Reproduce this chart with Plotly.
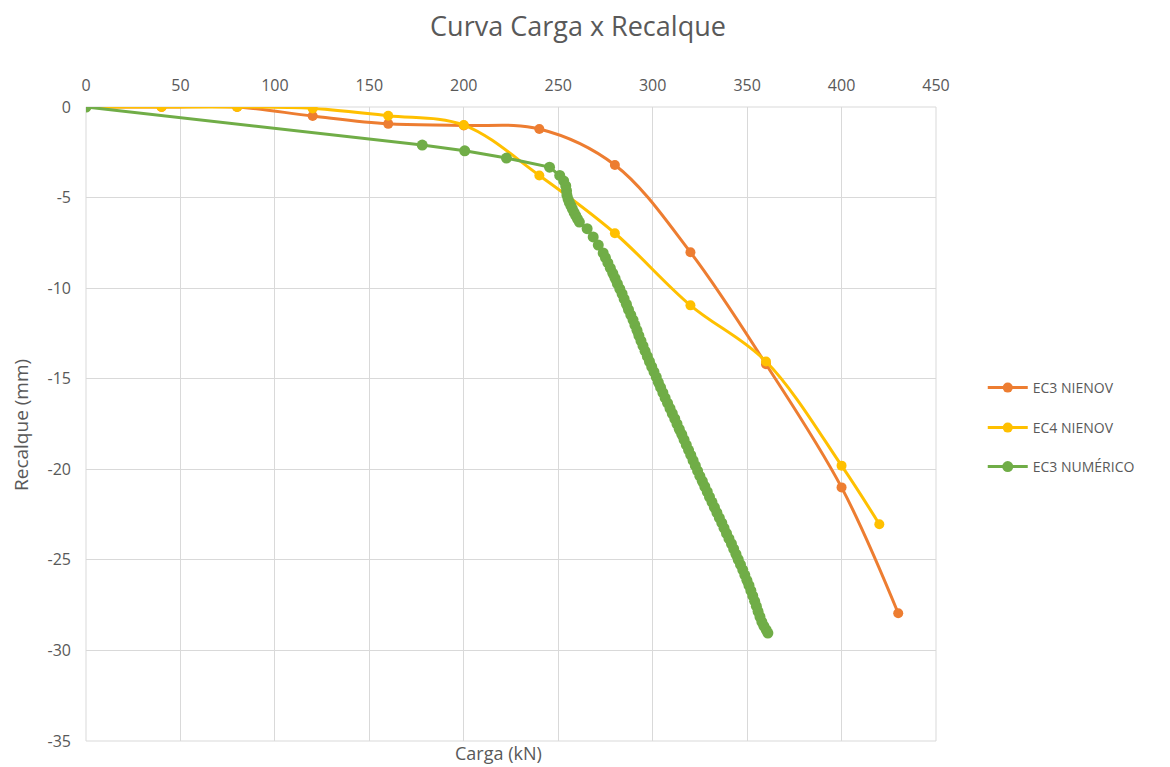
import plotly.graph_objects as go

# Load (kN) vs settlement (mm)
carga_ec3 = [0, 40, 80, 120, 160, 200, 240, 280, 320, 360, 400, 430]
recalque_ec3 = [0, 0, 0, -0.50, -0.93, -1.02, -1.21, -3.20, -8.02, -14.20, -21.00, -27.95]

carga_ec4 = [0, 40, 80, 120, 160, 200, 240, 280, 320, 360, 400, 420]
recalque_ec4 = [0, 0, 0, -0.08, -0.48, -1.00, -3.78, -6.97, -10.95, -14.05, -19.80, -23.03]

carga_num = [
    0, 178.0, 200.5, 222.6, 245.4, 250.8, 252.9, 254.0, 254.4, 254.6,
    255.2, 255.9, 256.7, 257.5, 258.4, 259.3, 260.2, 261.2, 265.3, 268.5,
    271.2, 273.8, 275.0, 276.3, 277.6, 278.9, 280.1, 281.3, 282.6, 283.8,
    284.9, 286.1, 287.2, 288.4, 289.6, 290.6, 291.7, 292.7, 293.8, 294.9,
    296.0, 297.2, 298.3, 299.5, 300.7, 301.9, 303.0, 304.2, 305.4, 306.6,
    307.9, 309.2, 310.4, 311.7, 312.9, 314.1, 315.4, 316.6, 317.8, 319.0,
    320.2, 321.4, 322.6, 323.8, 325.0, 326.3, 327.6, 328.9, 330.1, 331.4,
    332.7, 334.0, 335.3, 336.6, 337.8, 339.1, 340.4, 341.7, 342.9, 344.1,
    345.3, 346.5, 347.7, 348.8, 349.9, 351.0, 352.0, 353.0, 354.0, 354.9,
    355.8, 356.8, 357.8, 358.9, 360.1, 361.0,
]
recalque_num = [
    0, -2.10, -2.42, -2.82, -3.32, -3.78, -4.08, -4.36, -4.62, -4.86,
    -5.08, -5.27, -5.45, -5.63, -5.82, -6.00, -6.17, -6.35, -6.72, -7.17,
    -7.62, -8.06, -8.32, -8.61, -8.90, -9.18, -9.46, -9.75, -10.04, -10.31,
    -10.60, -10.89, -11.18, -11.47, -11.75, -12.04, -12.33, -12.62, -12.91, -13.19,
    -13.48, -13.77, -14.05, -14.34, -14.62, -14.91, -15.20, -15.48, -15.77, -16.06,
    -16.35, -16.64, -16.92, -17.21, -17.50, -17.79, -18.07, -18.36, -18.65, -18.94,
    -19.22, -19.51, -19.80, -20.09, -20.38, -20.66, -20.95, -21.24, -21.53, -21.81,
    -22.10, -22.39, -22.68, -22.96, -23.25, -23.54, -23.83, -24.11, -24.40, -24.69,
    -24.98, -25.26, -25.55, -25.84, -26.13, -26.41, -26.70, -26.99, -27.28, -27.56,
    -27.85, -28.14, -28.42, -28.66, -28.86, -29.04,
]

x_ticks = [0, 50, 100, 150, 200, 250, 300, 350, 400, 450]
y_ticks = [0, -5, -10, -15, -20, -25, -30, -35]
y_tick_labels = ["0", "-5", "-10", "-15", "-20", "-25", "-30", "-35"]

ORANGE = "#ED7D31"
YELLOW = "#FFC000"
GREEN = "#70AD47"
TEXT = "#595959"
GRID = "#D9D9D9"
FONT = "Open Sans"

fig = go.Figure()
fig.add_trace(go.Scatter(
    x=carga_ec3, y=recalque_ec3, name="EC3 NIENOV", mode="lines+markers",
    line=dict(color=ORANGE, width=3, shape="spline", smoothing=1),
    marker=dict(color=ORANGE, size=10), legend="legend", showlegend=True,
))
fig.add_trace(go.Scatter(
    x=carga_ec4, y=recalque_ec4, name="EC4 NIENOV", mode="lines+markers",
    line=dict(color=YELLOW, width=3, shape="spline", smoothing=1),
    marker=dict(color=YELLOW, size=10), legend="legend2", showlegend=True,
))
fig.add_trace(go.Scatter(
    x=carga_num, y=recalque_num, name="EC3 NUMÉRICO", mode="lines+markers",
    line=dict(color=GREEN, width=3),
    marker=dict(color=GREEN, size=11), legend="legend3", showlegend=True,
))

legend_common = dict(
    x=1.055, xanchor="left", yanchor="middle",
    font=dict(family=FONT, size=14, color=TEXT),
    bgcolor="rgba(0,0,0,0)", itemwidth=40,
)

fig.update_layout(
    width=1170, height=767,
    margin=dict(l=86, r=234, t=107, b=26),
    paper_bgcolor="white", plot_bgcolor="white",
    font=dict(family=FONT, color=TEXT),
    showlegend=True,
    title=dict(
        text="Curva Carga x Recalque", x=0.494, xanchor="center",
        y=0.965, yanchor="middle", font=dict(family=FONT, size=27, color=TEXT),
    ),
    legend=dict(y=(741 - 388) / 634, **legend_common),
    legend2=dict(y=(741 - 428) / 634, **legend_common),
    legend3=dict(y=(741 - 467) / 634, **legend_common),
    xaxis=dict(
        range=[0, 450], tickvals=x_ticks, side="top",
        showgrid=True, gridcolor=GRID, gridwidth=1,
        zeroline=False, showline=False, ticks="",
        ticklabelstandoff=12,
        tickfont=dict(family=FONT, size=16, color=TEXT),
    ),
    yaxis=dict(
        range=[-35, 0], tickvals=y_ticks, ticktext=y_tick_labels,
        showgrid=True, gridcolor=GRID, gridwidth=1,
        zeroline=False, showline=False, ticks="",
        ticklabelstandoff=14,
        tickfont=dict(family=FONT, size=16, color=TEXT),
    ),
    shapes=[dict(
        type="rect", xref="paper", yref="paper", x0=0, y0=0, x1=1, y1=1,
        line=dict(color=GRID, width=1), layer="below",
    )],
    annotations=[
        dict(
            text="Carga (kN)", xref="paper", yref="paper",
            x=(498 - 86) / 850, y=(741 - 767) / 634, xanchor="center", yanchor="bottom",
            showarrow=False, font=dict(family=FONT, size=18, color=TEXT),
        ),
        dict(
            text="Recalque (mm)", xref="paper", yref="paper",
            x=(21 - 86) / 850, y=(741 - 425) / 634, xanchor="center", yanchor="middle",
            textangle=-90, showarrow=False,
            font=dict(family=FONT, size=19, color=TEXT),
        ),
    ],
)

fig.write_html("out.html")
